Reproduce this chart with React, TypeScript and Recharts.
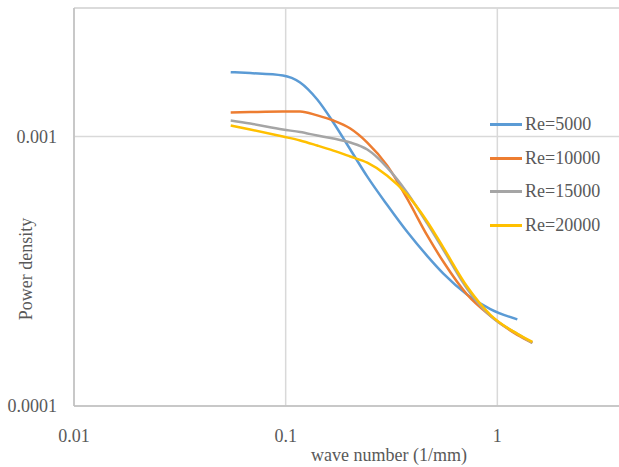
import React from 'react'
import { LineChart, Line, XAxis, YAxis, CartesianGrid, Legend, ReferenceLine } from 'recharts'

// wave numbers (1/mm), shared by all series
const waveNumber = [0.055, 0.068, 0.097, 0.117, 0.141, 0.168, 0.202, 0.243, 0.302, 0.375, 0.467, 0.556, 0.721, 0.927, 1.243, 1.464]

// power density per Reynolds number
const re5000 = [1.734e-3, 1.72e-3, 1.686e-3, 1.587e-3, 1.372e-3, 1.128e-3, 8.95e-4, 7.1e-4, 5.57e-4, 4.43e-4, 3.6e-4, 3.1e-4, 2.59e-4, 2.29e-4, 2.096e-4, null]
const re10000 = [1.228e-3, 1.233e-3, 1.239e-3, 1.239e-3, 1.198e-3, 1.147e-3, 1.071e-3, 9.5e-4, 7.8e-4, 5.88e-4, 4.285e-4, 3.43e-4, 2.587e-4, 2.16e-4, 1.836e-4, 1.716e-4]
const re15000 = [1.147e-3, 1.118e-3, 1.062e-3, 1.039e-3, 1.009e-3, 9.83e-4, 9.5e-4, 8.95e-4, 7.67e-4, 6.19e-4, 4.75e-4, 3.8e-4, 2.72e-4, 2.16e-4, 1.853e-4, 1.716e-4]
const re20000 = [1.099e-3, 1.062e-3, 1.0e-3, 9.67e-4, 9.26e-4, 8.87e-4, 8.43e-4, 8.0e-4, 7.16e-4, 6.09e-4, 4.83e-4, 3.87e-4, 2.77e-4, 2.18e-4, 1.853e-4, 1.729e-4]

const xTicks = [0.01, 0.1, 1]
const yTicks = [0.0001, 0.001]

const series = [
  { key: 're5000', name: 'Re=5000', color: '#5B9BD5' },
  { key: 're10000', name: 'Re=10000', color: '#ED7D31' },
  { key: 're15000', name: 'Re=15000', color: '#A5A5A5' },
  { key: 're20000', name: 'Re=20000', color: '#FFC000' },
]

const data = waveNumber.map((k, i) => ({
  k,
  re5000: re5000[i],
  re10000: re10000[i],
  re15000: re15000[i],
  re20000: re20000[i],
}))

const font = '"Liberation Serif", "Times New Roman", serif'
const textColor = '#595959'
const gridColor = '#d9d9d9'

function ExcelLegend() {
  return (
    <div style={{ fontFamily: font, fontSize: 18, color: textColor }}>
      {series.map((s) => (
        <div key={s.key} style={{ display: 'flex', alignItems: 'center', height: 33.5 }}>
          <div style={{ width: 32, height: 3, background: s.color, marginRight: 3 }} />
          <span>{s.name}</span>
        </div>
      ))}
    </div>
  )
}

export default function App() {
  return (
    <div style={{ position: 'fixed', left: 0, top: 0, width: 619, height: 467, overflow: 'hidden', background: '#fff' }}>
      <LineChart width={720} height={467} data={data} margin={{ top: 8, right: 11, left: 0, bottom: 0 }}>
        <CartesianGrid stroke={gridColor} strokeWidth={1.5} />
        <ReferenceLine y={0.003} stroke={gridColor} strokeWidth={1.5} />
        <XAxis
          dataKey="k"
          type="number"
          scale="log"
          domain={[0.01, 10]}
          ticks={xTicks}
          allowDataOverflow
          tickFormatter={(v) => String(v)}
          height={61}
          stroke="#bfbfbf"
          strokeWidth={1.5}
          tickLine={false}
          tickSize={0}
          tickMargin={23}
          tick={{ fill: textColor, fontSize: 18, fontFamily: font }}
          label={{
            content: () => (
              <text x={389} y={461} textAnchor="middle" fill={textColor} fontSize={18} fontFamily={font}>
                wave number (1/mm)
              </text>
            ),
          }}
        />
        <YAxis
          type="number"
          scale="log"
          domain={[0.0001, 0.003]}
          ticks={yTicks}
          allowDataOverflow
          tickFormatter={(v) => String(v)}
          width={74}
          stroke="#bfbfbf"
          strokeWidth={1.5}
          tickLine={false}
          tickSize={0}
          tickMargin={17}
          tick={{ fill: textColor, fontSize: 18, fontFamily: font }}
          label={{
            content: () => (
              <text
                x={28}
                y={269}
                transform="rotate(-90 28 269)"
                textAnchor="middle"
                dominantBaseline="middle"
                fill={textColor}
                fontSize={18}
                fontFamily={font}
              >
                Power density
              </text>
            ),
          }}
        />
        <Legend
          layout="horizontal"
          verticalAlign="middle"
          align="center"
          content={() => <ExcelLegend />}
          wrapperStyle={{ position: 'absolute', left: 490, top: 108, width: 130 }}
        />
        {series.map((s) => (
          <Line
            key={s.key}
            dataKey={s.key}
            name={s.name}
            type="monotone"
            stroke={s.color}
            strokeWidth={2.5}
            dot={false}
            isAnimationActive={false}
          />
        ))}
      </LineChart>
    </div>
  )
}
